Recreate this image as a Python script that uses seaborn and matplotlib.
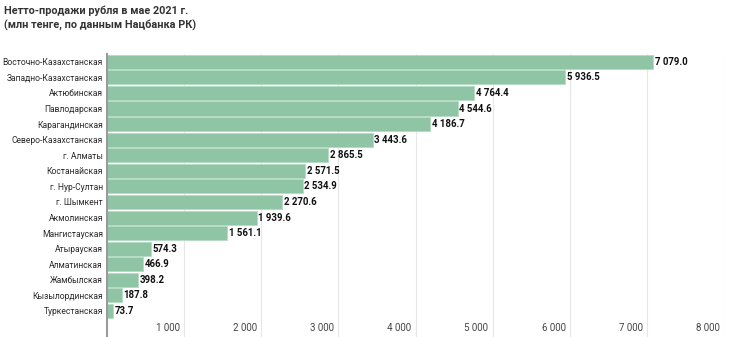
import matplotlib
matplotlib.use("Agg")
import matplotlib.pyplot as plt
import matplotlib.transforms as mtrans
import seaborn as sns
import pandas as pd

regions = [
    "Восточно-Казахстанская", "Западно-Казахстанская", "Актюбинская",
    "Павлодарская", "Карагандинская", "Северо-Казахстанская", "г. Алматы",
    "Костанайская", "г. Нур-Султан", "г. Шымкент", "Акмолинская",
    "Мангистауская", "Атырауская", "Алматинская", "Жамбылская",
    "Кызылординская", "Туркестанская",
]
net_sales = [7079.0, 5936.5, 4764.4, 4544.6, 4186.7, 3443.6, 2865.5,
             2571.5, 2534.9, 2270.6, 1939.6, 1561.1, 574.3, 466.9,
             398.2, 187.8, 73.7]
x_ticks = [1000, 2000, 3000, 4000, 5000, 6000, 7000, 8000]
title = "Нетто-продажи рубля в мае 2021 г.\n(млн тенге, по данным Нацбанка РК)"

sns.set_theme(style="white")
plt.rcParams["font.family"] = ["Roboto", "DejaVu Sans"]

df = pd.DataFrame({"region": regions, "value": net_sales})

fig = plt.figure(figsize=(7.3, 3.37), dpi=100)
ax = fig.add_axes([0.1466, 0.0, 0.8452, 0.8398])

sns.barplot(data=df, x="value", y="region", orient="h", color="#8fc4a5",
            saturation=1, width=0.9, edgecolor="#b5dcc4", linewidth=0.6, ax=ax)

ax.set_xlim(0, 8000)
ax.set_ylim(17.67, -0.5)
ax.set_xticks(x_ticks)
ax.set_xticklabels([f"{t:,}".replace(",", " ") for t in x_ticks])
ax.tick_params(axis="x", direction="in", length=0, pad=-10, labelsize=7,
               labelcolor="#444444")
# right-align each tick label just left of its grid line
offset = mtrans.ScaledTranslation(-3 / 72, 0, fig.dpi_scale_trans)
for lab in ax.get_xticklabels():
    lab.set_horizontalalignment("right")
    lab.set_transform(lab.get_transform() + offset)

ax.tick_params(axis="y", length=0, pad=3, labelsize=6.15, labelcolor="#2a2a2a")
ax.set_xlabel("")
ax.set_ylabel("")

ax.grid(axis="x", color="#e6e6e6", linewidth=0.8)
ax.set_axisbelow(True)
for side in ["top", "right", "bottom"]:
    ax.spines[side].set_visible(False)
ax.spines["left"].set_color("#9a9a9a")
ax.spines["left"].set_linewidth(1.5)

labels = [f"{v:,.1f}".replace(",", " ") for v in net_sales]
ax.bar_label(ax.containers[0], labels=labels, padding=1.2, fontsize=6.9,
             fontweight="bold", color="#111111")

fig.text(0.006, 0.985, title, ha="left", va="top", fontsize=7.8,
         fontweight="bold", color="#333333", linespacing=1.45)

fig.savefig("out.png", dpi=100)
